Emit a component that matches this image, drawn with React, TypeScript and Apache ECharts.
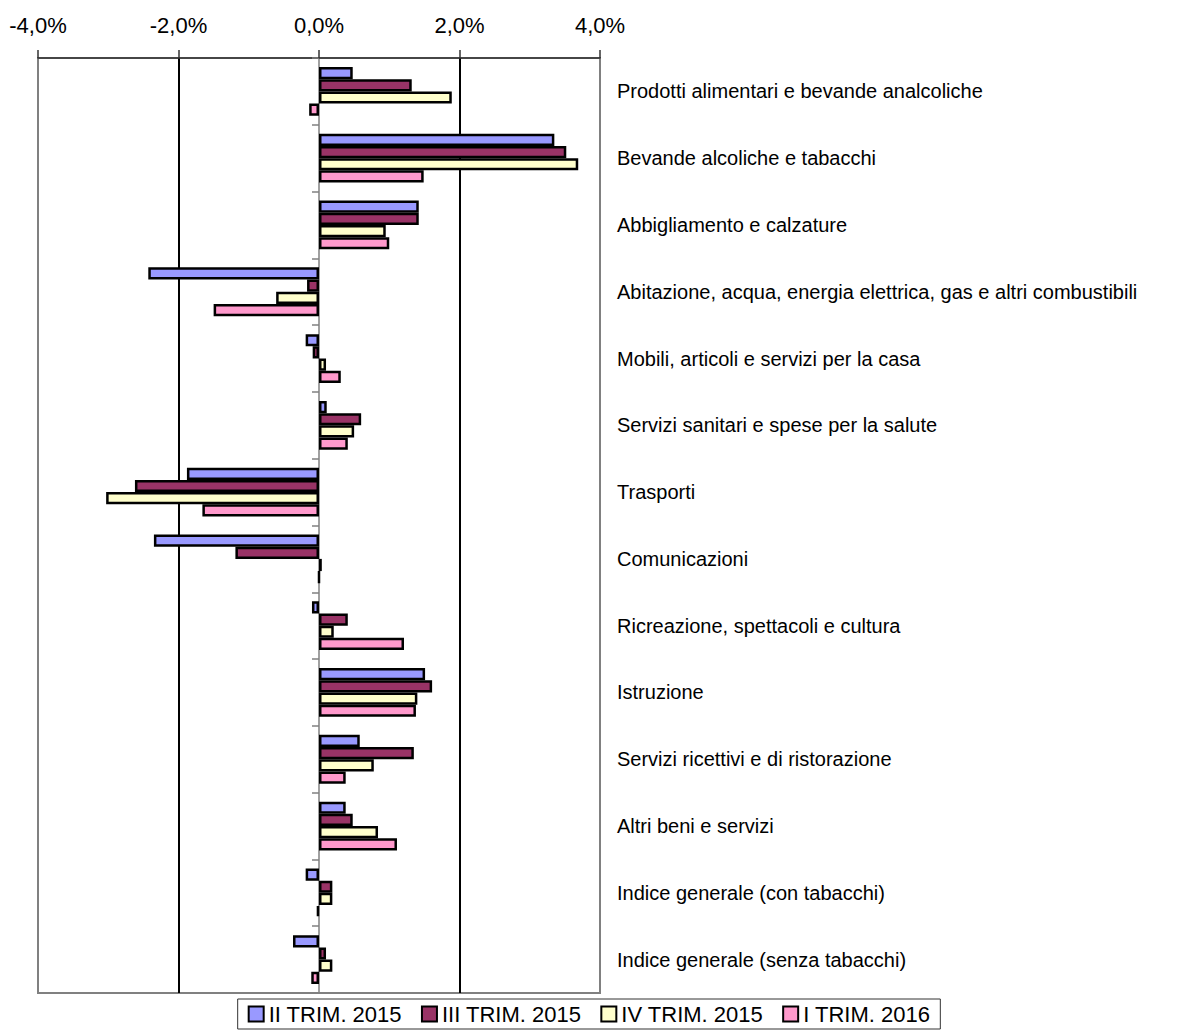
import React, { useEffect, useRef } from "react";
import * as echarts from "echarts";

const categories = [
  "Prodotti alimentari e bevande analcoliche",
  "Bevande alcoliche e tabacchi",
  "Abbigliamento e calzature",
  "Abitazione, acqua, energia elettrica, gas e altri combustibili",
  "Mobili, articoli e servizi per la casa",
  "Servizi sanitari e spese per la salute",
  "Trasporti",
  "Comunicazioni",
  "Ricreazione, spettacoli e cultura",
  "Istruzione",
  "Servizi ricettivi e di ristorazione",
  "Altri beni e servizi",
  "Indice generale (con tabacchi)",
  "Indice generale (senza tabacchi)",
];

const seriesNames = ["II TRIM. 2015", "III TRIM. 2015", "IV TRIM. 2015", "I TRIM. 2016"];

const trim2_2015 = [0.48, 3.35, 1.42, -2.43, -0.19, 0.11, -1.88, -2.35, -0.1, 1.51, 0.58, 0.38, -0.19, -0.37];
const trim3_2015 = [1.32, 3.52, 1.42, -0.17, -0.09, 0.6, -2.62, -1.19, 0.41, 1.61, 1.35, 0.48, 0.19, 0.1];
const trim4_2015 = [1.89, 3.69, 0.95, -0.61, 0.1, 0.5, -3.03, 0.04, 0.21, 1.4, 0.78, 0.84, 0.19, 0.19];
const trim1_2016 = [-0.14, 1.49, 1.0, -1.5, 0.31, 0.41, -1.66, 0, 1.21, 1.38, 0.38, 1.11, -0.03, -0.11];

const colors = ["#9999FF", "#993366", "#FFFFCC", "#FF99CC"];

const axisMin = -4;
const axisMax = 4;
const axisInterval = 2;

const FONT = "'Liberation Sans', Arial, sans-serif";

export default function App() {
  const ref = useRef<HTMLDivElement>(null);

  useEffect(() => {
    if (!ref.current) return;
    const chart = echarts.init(ref.current, undefined, { renderer: "svg" });
    const allData = [trim2_2015, trim3_2015, trim4_2015, trim1_2016];
    chart.setOption({
      animation: false,
      textStyle: { fontFamily: FONT },
      grid: {
        left: 38,
        right: 578,
        top: 58,
        bottom: 39,
        show: true,
        borderColor: "#808080",
        borderWidth: 2,
      },
      legend: {
        top: 999,
        left: "center",
        orient: "horizontal",
        padding: [4, 10],
        borderColor: "#333",
        borderWidth: 1,
        icon: "rect",
        itemWidth: 15,
        itemHeight: 15,
        itemGap: 19,
        textStyle: { fontSize: 22, color: "#000", fontFamily: FONT },
        data: seriesNames,
      },
      xAxis: {
        type: "value",
        position: "top",
        min: axisMin,
        max: axisMax,
        interval: axisInterval,
        axisLine: { show: true, lineStyle: { color: "#333", width: 1.5 } },
        axisTick: { show: true, inside: false, length: 8, lineStyle: { color: "#333", width: 1.5 } },
        axisLabel: {
          fontSize: 22,
          color: "#000",
          margin: 22,
          fontFamily: FONT,
          formatter: (v: number) => v.toFixed(1).replace(".", ",") + "%",
        },
        splitLine: {
          show: true,
          lineStyle: {
            color: ["#808080", "#000", "rgba(0,0,0,0)", "#000", "#808080"],
            width: 2,
          },
        },
      },
      yAxis: [
        {
          type: "category",
          data: categories,
          inverse: true,
          axisLine: { show: true, onZero: true, lineStyle: { color: "#808080", width: 1.5 } },
          axisTick: { show: true, length: 7, lineStyle: { color: "#808080", width: 1.5 } },
          axisLabel: { show: false },
          splitLine: { show: false },
        },
        {
          type: "category",
          data: categories,
          inverse: true,
          position: "right",
          axisLine: { show: false },
          axisTick: { show: false },
          axisLabel: { show: true, fontSize: 20, color: "#000", margin: 17, fontFamily: FONT },
          splitLine: { show: false },
        },
      ],
      series: allData.map((d, i) => ({
        name: seriesNames[i],
        type: "bar",
        yAxisIndex: 0,
        data: d,
        barGap: "0%",
        barCategoryGap: "27%",
        itemStyle: { color: colors[i], borderColor: "#000", borderWidth: 2.5 },
      })),
    });
    return () => chart.dispose();
  }, []);

  return (
    <div
      ref={ref}
      style={{ position: "absolute", left: 0, top: 0, width: 1178, height: 1032, background: "#fff" }}
    />
  );
}
